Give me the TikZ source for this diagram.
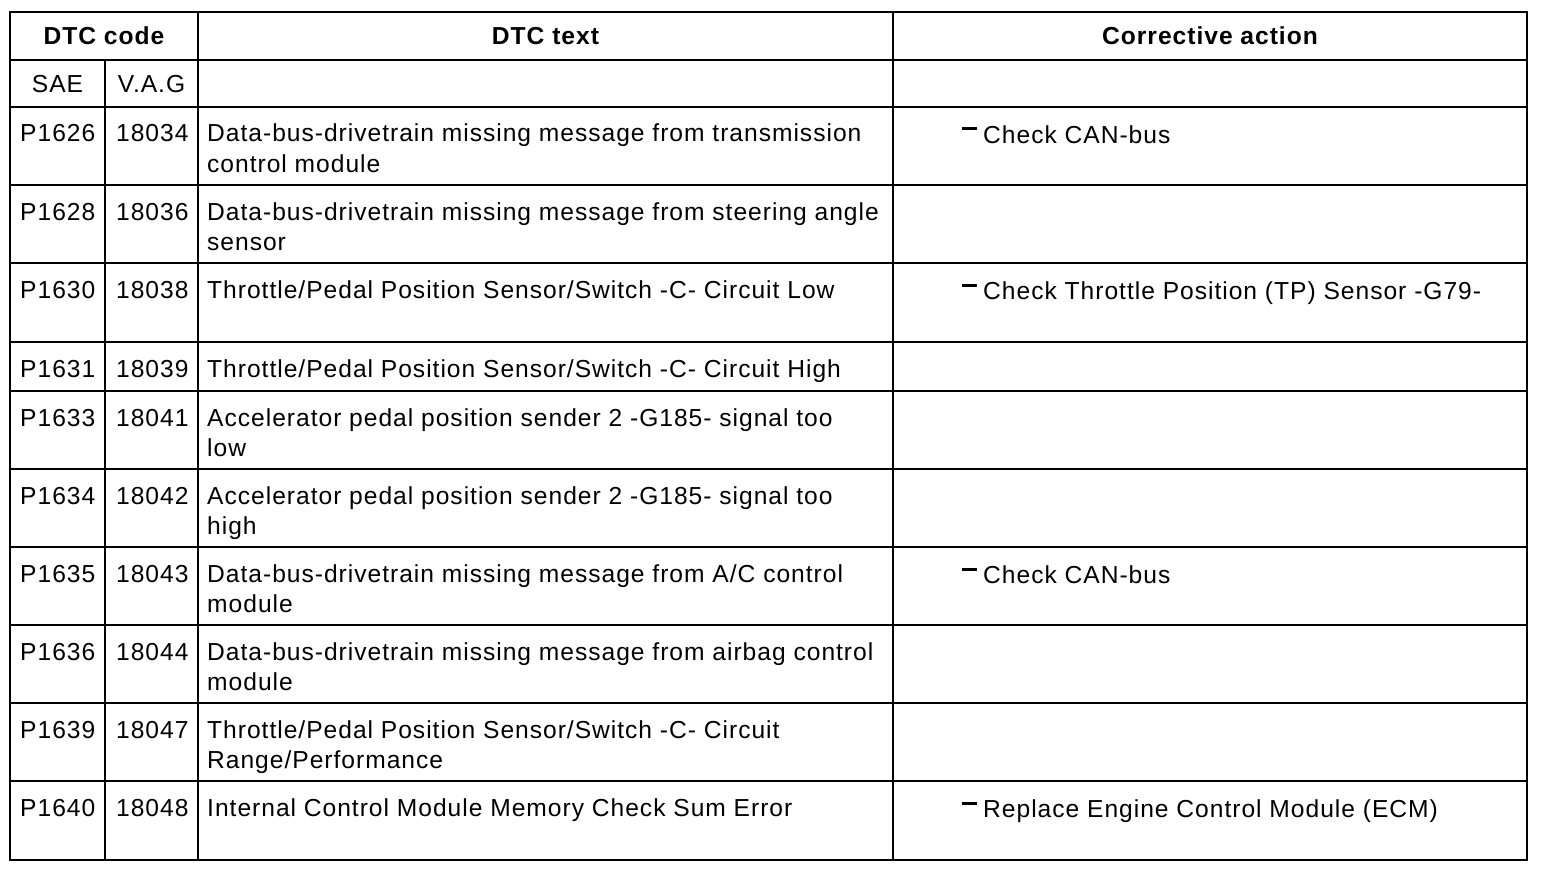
\documentclass[tikz,border=0pt]{standalone}
\usepackage{fontspec}
\setmainfont[LetterSpace=4.0]{Liberation Sans}
\begin{document}
\begin{tikzpicture}[x=1pt,y=-1pt,
  grid/.style={line width=2.6pt},
  cell/.style={anchor=base west,inner sep=0pt,font=\fontsize{24.6}{30}\selectfont},
  ccell/.style={anchor=base,inner sep=0pt,font=\fontsize{24.6}{30}\selectfont},
  head/.style={anchor=base,inner sep=0pt,font=\fontsize{24.6}{30}\selectfont\bfseries},
  bullet/.style={line width=3pt}]
\useasboundingbox (0,0) rectangle (1568,872);
% grid
\draw[grid] (10,12) rectangle (1527,860);
\foreach \yy in {60,107,185,263,342,391,469,547,625,703,781}
  \draw[grid] (10,\yy) -- (1527,\yy);
\draw[grid] (105,60) -- (105,860);
\draw[grid] (198,12) -- (198,860);
\draw[grid] (893,12) -- (893,860);
% header
\node[head] (hcode) at (104,45) {DTC code};
\node[head] (htext) at (545.5,45) {DTC text};
\node[head] (hact) at (1210,45) {Corrective action};
\node[ccell] (hsae) at (57.5,93) {SAE};
\node[ccell] (hvag) at (151.5,93) {V.A.G};
% rows
\foreach \n/\top/\sae/\vag/\la/\lb in {
  1/107/P1626/18034/{Data-bus-drivetrain missing message from transmission}/{control module},
  2/185/P1628/18036/{Data-bus-drivetrain missing message from steering angle}/{sensor},
  3/263/P1630/18038/{Throttle/Pedal Position Sensor/Switch -C- Circuit Low}/{},
  4/342/P1631/18039/{Throttle/Pedal Position Sensor/Switch -C- Circuit High}/{},
  5/391/P1633/18041/{Accelerator pedal position sender 2 -G185- signal too}/{low},
  6/469/P1634/18042/{Accelerator pedal position sender 2 -G185- signal too}/{high},
  7/547/P1635/18043/{Data-bus-drivetrain missing message from A/C control}/{module},
  8/625/P1636/18044/{Data-bus-drivetrain missing message from airbag control}/{module},
  9/703/P1639/18047/{Throttle/Pedal Position Sensor/Switch -C- Circuit}/{Range/Performance},
  10/781/P1640/18048/{Internal Control Module Memory Check Sum Error}/{}}
{
  \node[cell] (sae\n) at (20,\top+35) {\sae};
  \node[cell] (vag\n) at (116,\top+35) {\vag};
  \node[cell] (txa\n) at (207,\top+35) {\la};
  \node[cell] (txb\n) at (207,\top+65) {\lb};
}
% corrective actions
\foreach \n/\top/\act in {
  1/107/{Check CAN-bus},
  3/263/{Check Throttle Position (TP) Sensor -G79-},
  7/547/{Check CAN-bus},
  10/781/{Replace Engine Control Module (ECM)}}
{
  \node[cell] (act\n) at (983,\top+36) {\act};
  \coordinate (da\n) at (962,\top+22);
  \draw[bullet] (da\n) -- ([xshift=-6pt]act\n.base west |- da\n);
}
\end{tikzpicture}
\end{document}
